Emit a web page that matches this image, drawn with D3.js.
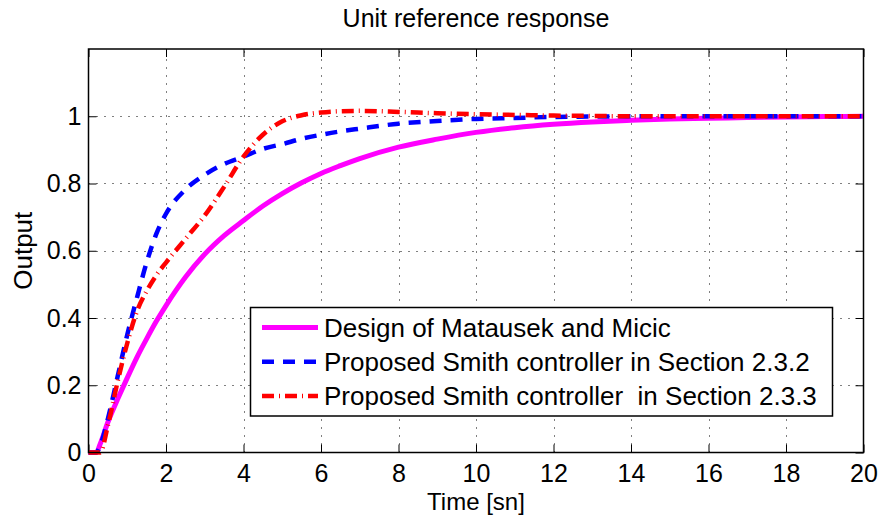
<!DOCTYPE html>
<html>
<head>
<meta charset="utf-8">
<script src="https://cdn.jsdelivr.net/npm/d3@7"></script>
<style>
  body { margin: 0; background: #fff; }
  text { font-family: "Liberation Sans", Arial, sans-serif; fill: #000; white-space: pre; }
</style>
</head>
<body>
<div id="container"></div>
<script>
/* CONSTANTS AND GLOBALS */
const width = 881,
  height = 515,
  margin = { top: 49, bottom: 62.5, left: 88.5, right: 17.5 };

/* DATA */
const time = [0, 0.2, 0.3, 0.5, 0.75, 1, 1.25, 1.5, 1.75, 2, 2.5, 3, 3.5, 4, 4.5, 5, 5.5, 6, 6.5, 7,
  8, 9, 10, 11, 12, 13, 14, 15, 16, 17, 18, 19, 20];
const matausek = [0, 0, 0.025, 0.09, 0.158, 0.222, 0.283, 0.338, 0.39, 0.437, 0.521, 0.59, 0.645, 0.69, 0.733, 0.77, 0.802, 0.83, 0.853, 0.874,
  0.908, 0.932, 0.952, 0.966, 0.976, 0.983, 0.988, 0.992, 0.994, 0.996, 0.998, 0.999, 1.0];
const smith232 = [0, 0, 0.02, 0.1, 0.225, 0.35, 0.46, 0.565, 0.65, 0.71, 0.782, 0.826, 0.858, 0.88, 0.903, 0.917, 0.933, 0.945, 0.955, 0.963,
  0.978, 0.986, 0.992, 0.995, 0.998, 0.999, 1.0, 1.0, 1.0, 1.0, 1.0, 1.0, 1.0];
const smith233 = [0, 0, 0, 0.08, 0.21, 0.325, 0.42, 0.48, 0.527, 0.565, 0.635, 0.705, 0.79, 0.88, 0.945, 0.985, 1.003, 1.011, 1.015, 1.016,
  1.013, 1.009, 1.006, 1.004, 1.002, 1.001, 1.0, 1.0, 1.0, 1.0, 1.0, 1.0, 1.0];

const xTicks = [0, 2, 4, 6, 8, 10, 12, 14, 16, 18, 20];
const yTicks = [0, 0.2, 0.4, 0.6, 0.8, 1];
const legendLabels = [
  "Design of Matausek and Micic",
  "Proposed Smith controller in Section 2.3.2",
  "Proposed Smith controller  in Section 2.3.3"
];

const series = [
  { name: legendLabels[0], values: matausek, color: "#ff00ff", dash: null, w: 5 },
  { name: legendLabels[1], values: smith232, color: "#0000ff", dash: "12,9", w: 4.5 },
  { name: legendLabels[2], values: smith233, color: "#ff0000", dash: "12,5,1,5", w: 4.5 }
];

/* SCALES */
const xScale = d3.scaleLinear()
  .domain([0, 20])
  .range([margin.left, width - margin.right]);

const yScale = d3.scaleLinear()
  .domain([0, 1.2])
  .range([height - margin.bottom, margin.top]);

/* HTML ELEMENTS */
const svg = d3.select("#container")
  .append("svg")
  .attr("width", width)
  .attr("height", height);

const x0 = xScale(0), x1 = xScale(20), y0 = yScale(0), y1 = yScale(1.2);

// grid
const grid = svg.append("g").attr("stroke", "#000").attr("stroke-width", 1)
  .attr("stroke-dasharray", "1,7");
grid.selectAll(".gx")
  .data(xTicks.slice(1, -1))
  .join("line")
  .attr("x1", d => Math.round(xScale(d)) + 0.5)
  .attr("x2", d => Math.round(xScale(d)) + 0.5)
  .attr("y1", y0).attr("y2", y1);
grid.selectAll(".gy")
  .data(yTicks.slice(1))
  .join("line")
  .attr("y1", d => Math.round(yScale(d)) + 0.5)
  .attr("y2", d => Math.round(yScale(d)) + 0.5)
  .attr("x1", x0).attr("x2", x1);

// axes
const xAxis = d3.axisBottom(xScale).tickValues(xTicks).tickSize(-8).tickPadding(12).tickFormat(d3.format("d"));
svg.append("g")
  .attr("transform", `translate(0,${y0})`)
  .call(xAxis)
  .call(g => g.select(".domain").remove())
  .call(g => g.selectAll("text").attr("font-size", 25).attr("font-family", "Liberation Sans, Arial, sans-serif"));

const xAxisTop = d3.axisTop(xScale).tickValues(xTicks).tickSize(-8).tickFormat("");
svg.append("g")
  .attr("transform", `translate(0,${y1})`)
  .call(xAxisTop)
  .call(g => g.select(".domain").remove());

const yAxis = d3.axisLeft(yScale).tickValues(yTicks).tickSize(-8).tickPadding(7).tickFormat(d3.format("~g"));
svg.append("g")
  .attr("transform", `translate(${x0},0)`)
  .call(yAxis)
  .call(g => g.select(".domain").remove())
  .call(g => g.selectAll("text").attr("font-size", 25).attr("font-family", "Liberation Sans, Arial, sans-serif"));

const yAxisRight = d3.axisRight(yScale).tickValues(yTicks).tickSize(-8).tickFormat("");
svg.append("g")
  .attr("transform", `translate(${x1},0)`)
  .call(yAxisRight)
  .call(g => g.select(".domain").remove());

// lines
const line = d3.line()
  .x((d, i) => xScale(time[i]))
  .y(d => yScale(d))
  .curve(d3.curveMonotoneX);

svg.append("g")
  .selectAll("path")
  .data(series)
  .join("path")
  .attr("d", d => line(d.values))
  .attr("fill", "none")
  .attr("stroke", d => d.color)
  .attr("stroke-width", d => d.w)
  .attr("stroke-dasharray", d => d.dash);

// frame
svg.append("rect")
  .attr("x", x0).attr("y", y1)
  .attr("width", x1 - x0).attr("height", y0 - y1)
  .attr("fill", "none").attr("stroke", "#000").attr("stroke-width", 1.5);

// legend
const legend = svg.append("g");
legend.append("rect")
  .attr("x", 250.5).attr("y", 307.5)
  .attr("width", 582).attr("height", 108.5)
  .attr("fill", "#fff").attr("stroke", "#000").attr("stroke-width", 1.5);

const rows = legend.selectAll(".row")
  .data(series)
  .join("g")
  .attr("transform", (d, i) => `translate(0,${327.5 + i * 34.2})`);
rows.append("line")
  .attr("x1", 262).attr("x2", 318)
  .attr("stroke", d => d.color)
  .attr("stroke-width", d => d.w)
  .attr("stroke-dasharray", d => d.dash);
rows.append("text")
  .attr("x", 324).attr("y", 9)
  .attr("font-size", 26)
  .text(d => d.name);

// titles
svg.append("text")
  .attr("x", (x0 + x1) / 2).attr("y", 27)
  .attr("text-anchor", "middle")
  .attr("font-size", 25)
  .text("Unit reference response");

svg.append("text")
  .attr("x", (x0 + x1) / 2).attr("y", 510)
  .attr("text-anchor", "middle")
  .attr("font-size", 24)
  .text("Time [sn]");

svg.append("text")
  .attr("transform", `translate(32,${(y0 + y1) / 2}) rotate(-90)`)
  .attr("text-anchor", "middle")
  .attr("font-size", 26)
  .text("Output");
</script>
</body>
</html>
